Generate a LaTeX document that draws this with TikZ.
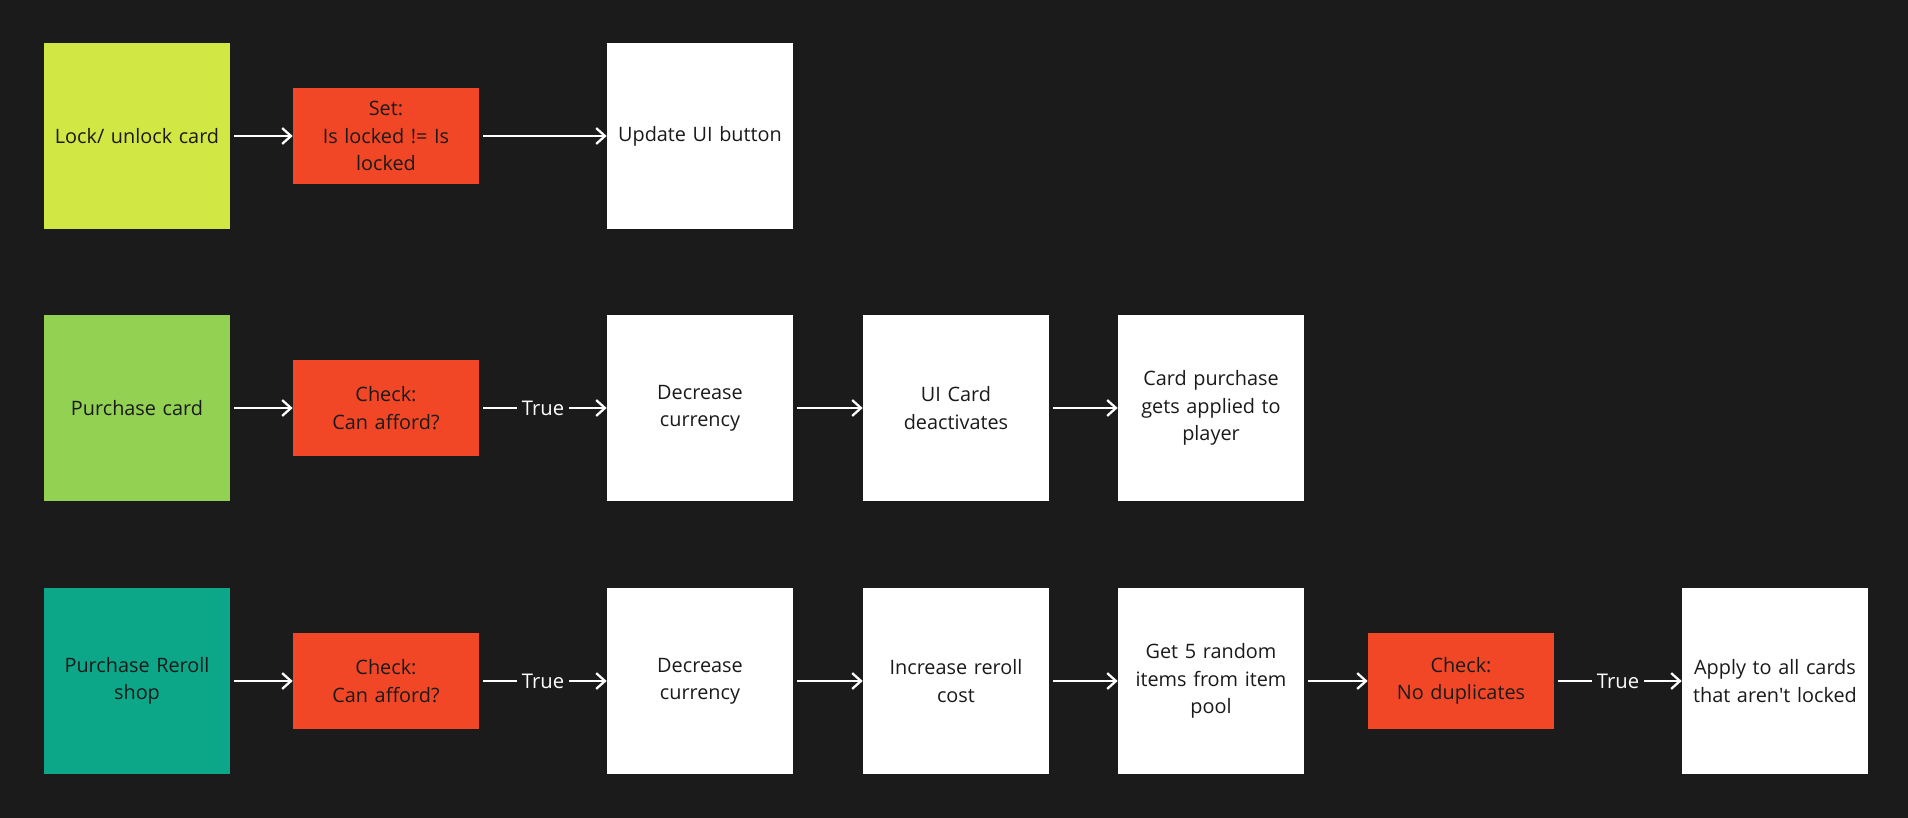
\documentclass[tikz,border=0pt]{standalone}
\usepackage{fontspec}
\setmainfont{Open Sans}
\usetikzlibrary{positioning,arrows.meta}
\definecolor{canvas}{HTML}{1B1B1B}
\definecolor{ink}{HTML}{1A1A1A}
\definecolor{lime}{HTML}{D1E844}
\definecolor{leaf}{HTML}{92D152}
\definecolor{teal}{HTML}{0CA789}
\definecolor{alert}{HTML}{F24726}

\begin{document}
\begin{tikzpicture}[x=0.02cm,y=-0.02cm,line join=round,
    font=\fontsize{11.3}{15.6}\selectfont,
    box/.style={minimum width=3.72cm,minimum height=3.72cm,inner sep=2pt,
      align=center,text=ink,text width=3.5cm},
    start/.style={box,fill=#1},
    action/.style={box,fill=white},
    test/.style={box,fill=alert,minimum height=1.94cm},
    flow/.style={draw=white,line width=1.2pt,-{Straight Barb[length=5pt,width=9pt,line width=1.3pt]},
      shorten <=2pt},
    yes/.style={fill=canvas,text=white,inner sep=3pt,font=\fontsize{11.5}{14}\selectfont}]
  \fill[canvas] (0,0) rectangle (1908,818);
  % row 1: lock / unlock
  \node[start=lime] (lock) at (137,136) {Lock/ unlock card};
  \node[test] (setlock) at (386,136) {Set:\\Is locked != Is\\locked};
  \node[action] (uibtn) at (700,136) {Update UI button};
  \draw[flow] (lock) -- (setlock);
  \draw[flow] (setlock) -- (uibtn);
  % row 2: purchase card
  \node[start=leaf] (buy) at (137,408) {Purchase card};
  \node[test] (afford) at (386,408) {Check:\\Can afford?};
  \node[action] (spend) at (700,408) {Decrease\\currency};
  \node[action] (uicard) at (956,408) {UI Card\\deactivates};
  \node[action] (apply) at (1211,408) {Card purchase\\gets applied to\\player};
  \draw[flow] (buy) -- (afford);
  \draw[flow] (afford) -- node[yes] {True} (spend);
  \draw[flow] (spend) -- (uicard);
  \draw[flow] (uicard) -- (apply);
  % row 3: reroll shop
  \node[start=teal] (reroll) at (137,681) {Purchase Reroll\\shop};
  \node[test] (afford2) at (386,681) {Check:\\Can afford?};
  \node[action] (spend2) at (700,681) {Decrease\\currency};
  \node[action] (cost) at (956,681) {Increase reroll\\cost};
  \node[action] (pool) at (1211,681) {Get 5 random\\items from item\\pool};
  \node[test] (dupes) at (1461,681) {Check:\\No duplicates};
  \node[action] (refill) at (1775,681) {Apply to all cards\\that aren\textquotesingle t locked};
  \draw[flow] (reroll) -- (afford2);
  \draw[flow] (afford2) -- node[yes] {True} (spend2);
  \draw[flow] (spend2) -- (cost);
  \draw[flow] (cost) -- (pool);
  \draw[flow] (pool) -- (dupes);
  \draw[flow] (dupes) -- node[yes] {True} (refill);
\end{tikzpicture}
\end{document}
